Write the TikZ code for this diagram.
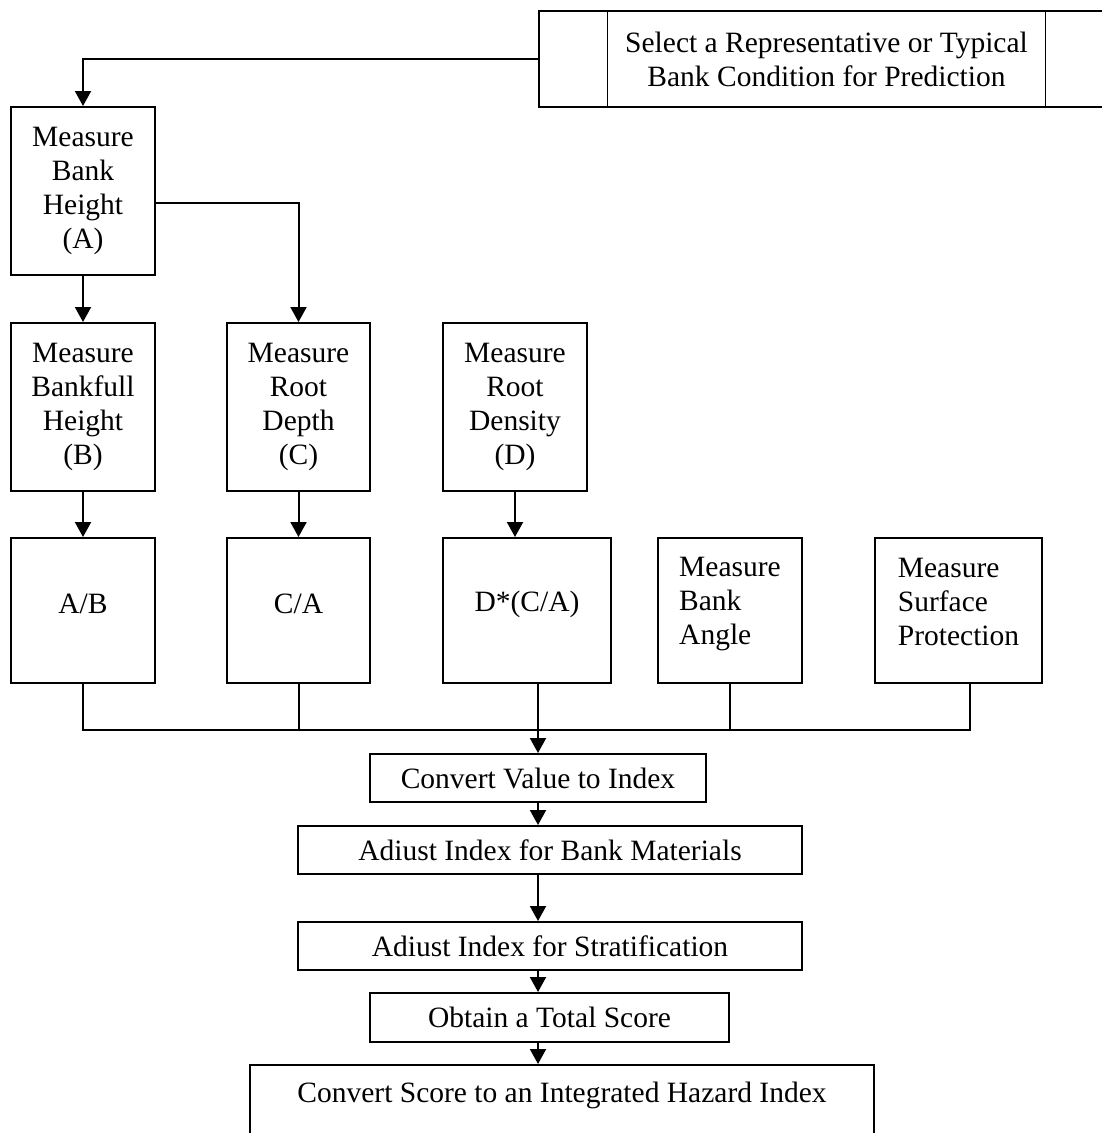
\documentclass[tikz,border=0pt]{standalone}
\usepackage{fontspec}
\setmainfont{Liberation Serif}
\usetikzlibrary{arrows.meta}
\tikzset{
  every node/.style={font=\fontsize{29.5}{34}\selectfont},
  box/.style={draw, line width=2pt, inner sep=0pt, align=center, rectangle},
  plain/.style={inner sep=0pt, align=center, rectangle},
  conn/.style={line width=2pt},
  arr/.style={line width=2pt, -{Triangle[width=16pt,length=15pt]}},
  thin/.style={line width=1.3pt}
}
\begin{document}
\begin{tikzpicture}[x=1pt,y=-1pt]
\useasboundingbox (0,0) rectangle (1102,1133);
\clip (0,0) rectangle (1102,1133);
% top box
\node[box, minimum width=601pt, minimum height=96pt] (outer) at (839.5,59) {};
\node[plain, minimum width=437pt, minimum height=96pt] (sel) at (826.5,59) {Select a Representative or Typical\\Bank Condition for Prediction};
\draw[thin] (sel.north west) -- (sel.south west);
\draw[thin] (sel.north east) -- (sel.south east);
% row 1
\node[box, minimum width=144pt, minimum height=168pt] (A) at (83,191) {Measure\\Bank\\Height\\(A)};
% row 2
\node[box, minimum width=144pt, minimum height=168pt] (B) at (83,407) {Measure\\Bankfull\\Height\\(B)};
\node[box, minimum width=143pt, minimum height=168pt] (C) at (298.5,407) {Measure\\Root\\Depth\\(C)};
\node[box, minimum width=144pt, minimum height=168pt] (D) at (515,407) {Measure\\Root\\Density\\(D)};
% row 3
\node[box, minimum width=144pt, minimum height=145pt, text depth=14pt] (AB) at (83,610.5) {A/B};
\node[box, minimum width=143pt, minimum height=145pt, text depth=14pt] (CA) at (298.5,610.5) {C/A};
\node[box, minimum width=168pt, minimum height=145pt, text depth=19pt] (DCA) at (527,610.5) {D*(C/A)};
\node[box, minimum width=144pt, minimum height=145pt, text depth=19pt, align=left] (ANG) at (730,610.5) {Measure\\Bank\\Angle};
\node[box, minimum width=167pt, minimum height=145pt, text depth=18pt, align=left] (SURF) at (958.5,610.5) {Measure\\Surface\\Protection};
% lower chain
\node[box, minimum width=336pt, minimum height=48pt] (CV) at (538,778) {Convert Value to Index};
\node[box, minimum width=504pt, minimum height=48pt] (ABM) at (550,850) {Adiust Index for Bank Materials};
\node[box, minimum width=504pt, minimum height=48pt] (ASTR) at (550,946) {Adiust Index for Stratification};
\node[box, minimum width=359pt, minimum height=49pt] (TOT) at (549.5,1017.5) {Obtain a Total Score};
\node[box, minimum width=624pt, minimum height=84pt, text depth=30pt] (CS) at (562,1107) {Convert Score to an Integrated Hazard Index};
% connectors
\draw[arr] (outer.west) -| (A.north);
\draw[arr] ([yshift=-12pt]A.east) -| (C.north);
\draw[arr] (A.south) -- (B.north);
\draw[arr] (B.south) -- (AB.north);
\draw[arr] (C.south) -- (CA.north);
\draw[arr] (D.south) -- (D.south |- DCA.north);
% bus
\coordinate (busL) at (83,730);
\coordinate (busR) at (970,730);
\draw[conn] (AB.south) -- (busL) -- (busR) -- (busR |- SURF.south);
\draw[conn] (CA.south) -- (CA.south |- busL);
\draw[conn] (ANG.south) -- (ANG.south |- busL);
\draw[arr] (CV.north |- DCA.south) -- (CV.north);
% chain
\draw[arr] (CV.south) -- (CV.south |- ABM.north);
\draw[arr] (CV.south |- ABM.south) -- (CV.south |- ASTR.north);
\draw[arr] (CV.south |- ASTR.south) -- (CV.south |- TOT.north);
\draw[arr] (CV.south |- TOT.south) -- (CV.south |- CS.north);
\end{tikzpicture}
\end{document}
